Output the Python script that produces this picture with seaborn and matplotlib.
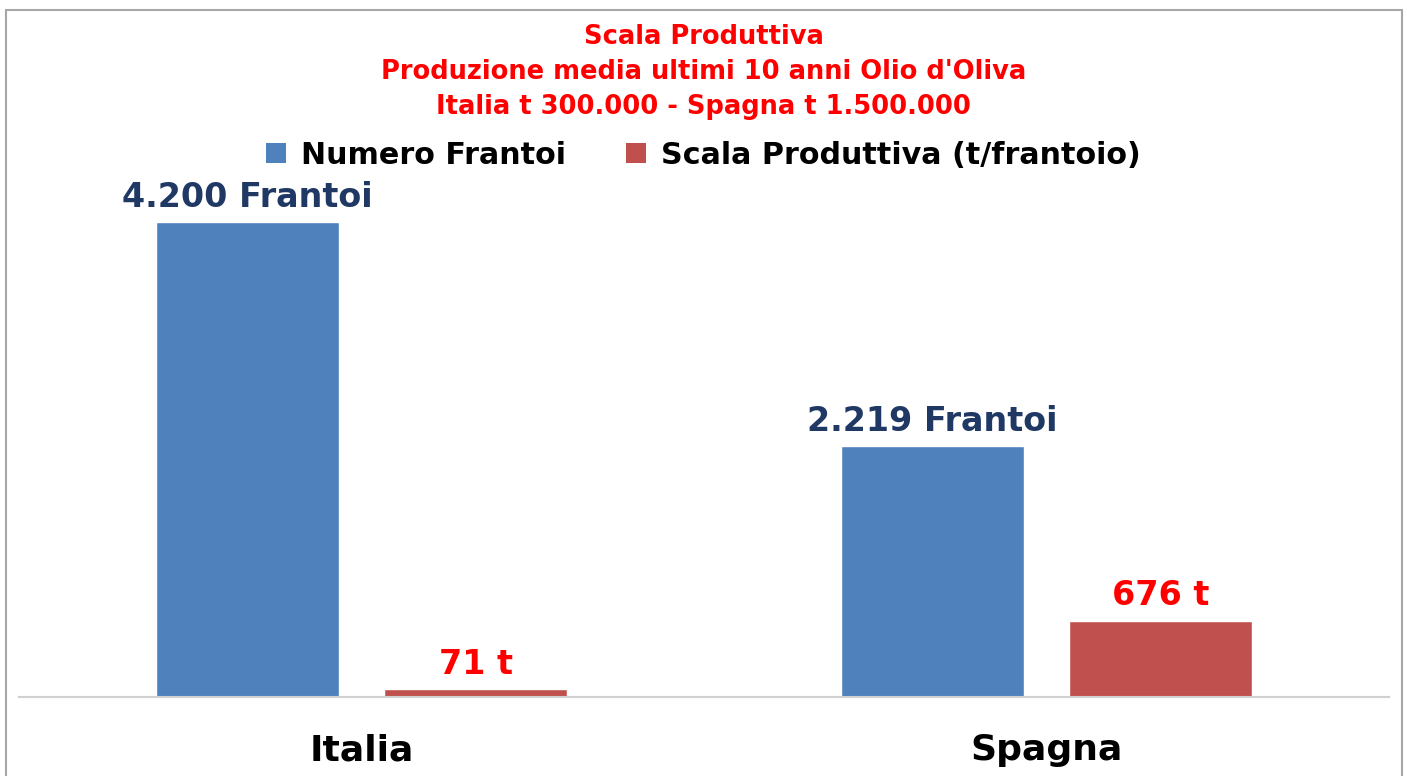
import matplotlib
matplotlib.use("Agg")
import matplotlib.pyplot as plt
import seaborn as sns
import pandas as pd
from matplotlib.patches import Rectangle, Patch

paesi = ["Italia", "Spagna"]
serie = ["Numero Frantoi", "Scala Produttiva (t/frantoio)"]
numero_frantoi = [4200, 2219]
scala_produttiva = [71, 676]
etichette_frantoi = ["4.200 Frantoi", "2.219 Frantoi"]
etichette_scala = ["71 t", "676 t"]
titolo = ["Scala Produttiva",
          "Produzione media ultimi 10 anni Olio d'Oliva",
          "Italia t 300.000 - Spagna t 1.500.000"]

colori = ["#4F81BD", "#C0504D"]

df = pd.DataFrame({
    "Paese": paesi * 2,
    "Serie": [serie[0]] * 2 + [serie[1]] * 2,
    "Valore": numero_frantoi + scala_produttiva,
})

sns.set_theme(style="white")
plt.rcParams["font.family"] = ["DejaVu Sans"]

fig = plt.figure(figsize=(14.07, 7.76), dpi=100)
ax = fig.add_axes([19/1407, 1 - 697/776, 1370/1407, (697 - 188)/776])

sns.barplot(data=df, x="Paese", y="Valore", hue="Serie", order=paesi,
            hue_order=serie, palette=colori, width=0.666, gap=0.2,
            saturation=1, ax=ax, legend=False)

ax.set_xlim(-0.5, 1.5)
ax.set_ylim(0, 4500)
ax.set_yticks([])
ax.set_xlabel("")
ax.set_ylabel("")
for s in ["top", "right", "left"]:
    ax.spines[s].set_visible(False)
ax.spines["bottom"].set_color("#D0D0D0")
ax.spines["bottom"].set_linewidth(1.5)
ax.tick_params(axis="x", length=0, pad=26)
for lab in ax.get_xticklabels():
    lab.set_fontsize(26)
    lab.set_fontweight("bold")
    lab.set_color("black")

# data labels
cont_f, cont_s = ax.containers[0], ax.containers[1]
ax.bar_label(cont_f, labels=etichette_frantoi, padding=6, fontsize=24,
             fontweight="bold", color="#1F3864")
ax.bar_label(cont_s, labels=etichette_scala, padding=6, fontsize=24,
             fontweight="bold", color="#FF0000")

# title
for i, t in enumerate(titolo):
    fig.text(0.5, 1 - (37 + 35 * i)/776, t, ha="center", va="center",
             fontsize=18.5, fontweight="bold", color="#FF0000")

# legend
handles = [Patch(facecolor=c, edgecolor="none") for c in colori]
leg = fig.legend(handles, serie, loc="center", bbox_to_anchor=(0.5, 1 - 155/776),
                 ncol=2, frameon=False, fontsize=21.7, handlelength=0.65,
                 handleheight=0.65, columnspacing=2.0, handletextpad=0.5)
for txt in leg.get_texts():
    txt.set_fontweight("bold")
    txt.set_color("black")

# frame
fig.patches.append(Rectangle((6/1407, -0.1), (1402 - 6)/1407, 1.1 - 10/776,
                             transform=fig.transFigure, fill=False,
                             edgecolor="#A6A6A6", linewidth=1.5, zorder=0))

fig.savefig("out.png", dpi=100)
